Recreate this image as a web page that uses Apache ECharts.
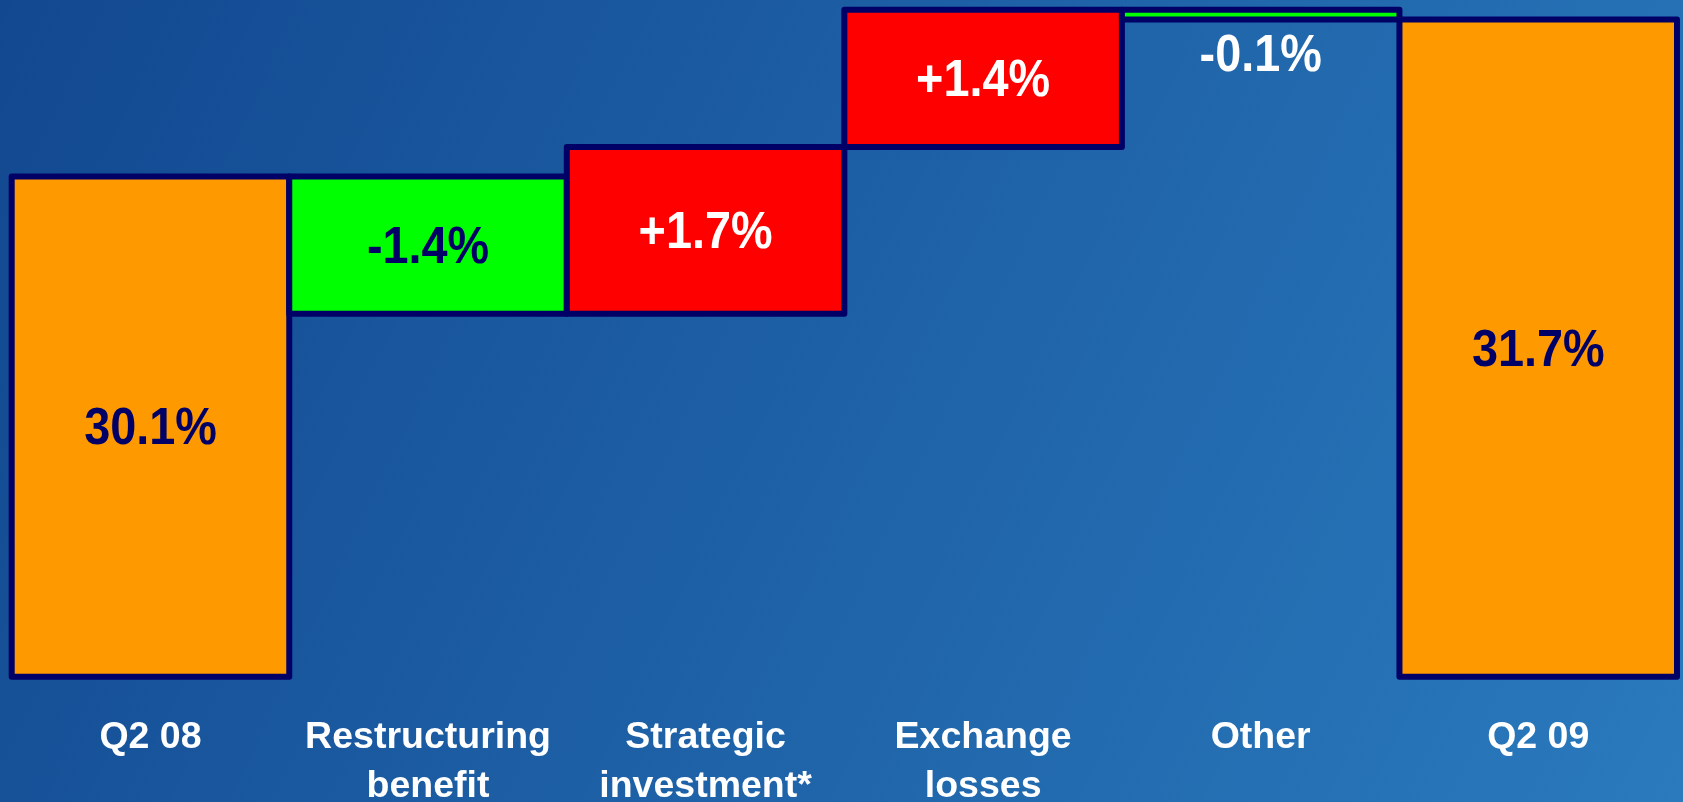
<!DOCTYPE html>
<html>
<head>
<meta charset="utf-8">
<title>Margin bridge Q2 08 – Q2 09</title>
<script src="https://cdn.jsdelivr.net/npm/echarts@6/dist/echarts.min.js"></script>
<style>
  html, body { margin: 0; padding: 0; background: #1a5ba1; }
  #chart { width: 1683px; height: 802px; }
</style>
</head>
<body>
<div id="chart"></div>
<script>
// Bridge categories (x axis)
const categories = ['Q2 08', 'Restructuring\nbenefit', 'Strategic\ninvestment*', 'Exchange\nlosses', 'Other', 'Q2 09'];
// Opening and closing margin, in percent
const openingMargin = 30.1;
const closingMargin = 31.7;
// Movements between the two quarters, in percentage points
const movements = [-1.4, 1.7, 1.4, -0.1];

const AXIS_FLOOR = 25;
const AXIS_CEIL = 31.9;

const COLORS = {
  total: '#FF9900',
  down: '#00FF00',
  up: '#FF0000',
  edge: '#000066',
  darkText: '#000066',
  lightText: '#FFFFFF'
};

// Build [index, low, high, kind, label] segments for the waterfall
const segments = [];
segments.push([0, AXIS_FLOOR, openingMargin, 'total', openingMargin.toFixed(1) + '%']);
let running = openingMargin;
movements.forEach(function (d, k) {
  const next = +(running + d).toFixed(2);
  segments.push([k + 1, Math.min(running, next), Math.max(running, next),
    d < 0 ? 'down' : 'up', (d > 0 ? '+' : '') + d.toFixed(1) + '%']);
  running = next;
});
segments.push([categories.length - 1, AXIS_FLOOR, closingMargin, 'total', closingMargin.toFixed(1) + '%']);

function renderStep(params, api) {
  const seg = segments[params.dataIndex];
  const idx = api.value(0);
  const top = api.coord([idx, api.value(2)]);
  const bottom = api.coord([idx, api.value(1)]);
  const w = api.size([1, 0])[0];
  const h = bottom[1] - top[1];
  const kind = seg[3];

  // Too thin to hold its label: the label sits underneath the step
  const thin = h < 60;
  let textColor = kind === 'up' ? COLORS.lightText : COLORS.darkText;
  let textY = top[1] + h / 2 + 3.5;
  if (thin) {
    textColor = COLORS.lightText;
    textY = bottom[1] + 37.5;
  }

  return {
    type: 'group',
    children: [
      {
        type: 'rect',
        shape: { x: top[0] - w / 2, y: top[1], width: w, height: h },
        style: {
          fill: COLORS[kind],
          stroke: COLORS.edge,
          lineWidth: 6,
          lineJoin: 'round'
        }
      },
      {
        type: 'text',
        x: top[0],
        y: textY,
        scaleX: 0.9,
        style: {
          text: seg[4],
          fill: textColor,
          font: 'bold 52px "Liberation Sans", Arial, sans-serif',
          align: 'center',
          verticalAlign: 'middle'
        }
      }
    ]
  };
}

const chart = echarts.init(document.getElementById('chart'));
chart.setOption({
  backgroundColor: new echarts.graphic.LinearGradient(0, 0, 1, 1, [
    { offset: 0, color: '#124890' },
    { offset: 1, color: '#2a7abd' }
  ]),
  animation: false,
  grid: {
    left: 11.7, right: 6, top: 0, bottom: 125.3,
    outerBoundsMode: 'none'
  },
  xAxis: {
    type: 'category',
    data: categories,
    axisLine: { show: false },
    axisTick: { show: false },
    splitLine: { show: false },
    axisLabel: {
      interval: 0,
      margin: 36,
      color: '#FFFFFF',
      fontFamily: '"Liberation Sans", Arial, sans-serif',
      fontWeight: 'bold',
      fontSize: 37.5,
      lineHeight: 49
    }
  },
  yAxis: {
    type: 'value',
    min: AXIS_FLOOR,
    max: AXIS_CEIL,
    show: false,
    splitLine: { show: false }
  },
  series: [{
    type: 'custom',
    renderItem: renderStep,
    data: segments.map(function (s) { return [s[0], s[1], s[2]]; }),
    encode: { x: 0, y: [1, 2] },
    clip: false
  }]
});
</script>
</body>
</html>
